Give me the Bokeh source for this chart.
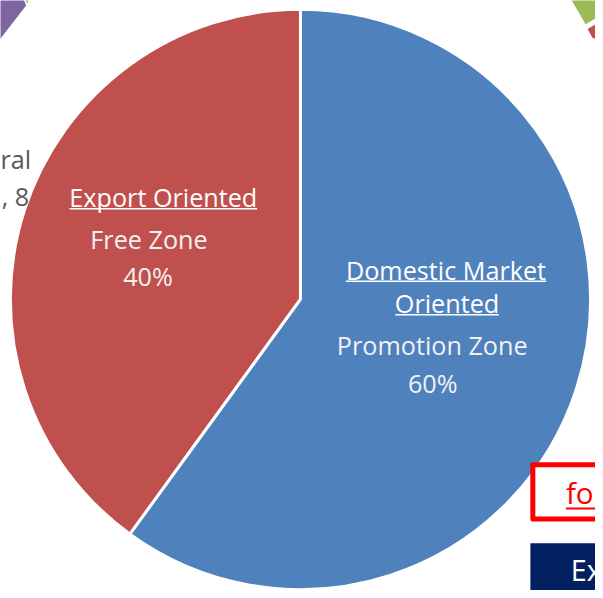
import numpy as np
from bokeh.plotting import figure
from bokeh.models import Range1d, ColumnDataSource
from bokeh.core.properties import value
from bokeh.embed import file_html
from bokeh.resources import INLINE

# ---- data ----
zones = ["Free Zone", "Promotion Zone"]
orientations = ["Export Oriented", "Domestic Market Oriented"]
shares = [40, 60]
pct_labels = ["40%", "60%"]
colors = ["#C0504D", "#4F81BD"]

# ---- layout (reference pixel frame, 603 x 598, scaled into the figure) ----
W, H = 595, 590
REF_W, REF_H = 603, 598
CX, CY, R = 304, 303, 294
FONT = "Open Sans"
S = W / REF_W


def X(px):
    return px - CX


def Y(py):
    return CY - py


def fs(px):
    return "%.1fpx" % (px * S)


p = figure(width=W, height=H, x_range=Range1d(X(0), X(REF_W)), y_range=Range1d(Y(REF_H), Y(0)),
           output_backend="svg", toolbar_location=None, tools="", min_border=0)
p.axis.visible = False
p.grid.visible = False
p.outline_line_color = None
p.background_fill_color = "white"
p.border_fill_color = "white"

# ---- pie ----
fr = np.array(shares, dtype=float) / sum(shares)
ends = np.pi / 2 + np.cumsum(fr) * 2 * np.pi
starts = np.concatenate([[np.pi / 2], ends[:-1]])
src = ColumnDataSource(dict(start=starts, end=ends, color=colors, zone=zones))
p.wedge(x=0, y=0, radius=R, start_angle="start", end_angle="end", direction="anticlock",
        fill_color="color", line_color="white", line_width=3, source=src)

# ---- fragments of neighbouring charts ----
p.patch([X(v) for v in [-5, 22, 26, -5]], [Y(v) for v in [-5, -5, 5, 45]], fill_color="#8064A2", line_color=None)
p.patch([X(v) for v in [23, 31, 27]], [Y(v) for v in [-5, -5, 3]], fill_color="#9BBB59", line_color=None)
p.patch([X(v) for v in [576, 610, 610, 593]], [Y(v) for v in [-5, -5, 14, 24]], fill_color="#9BBB59", line_color=None)
p.patch([X(v) for v in [595, 610, 610, 600]], [Y(v) for v in [29, 20, 40, 38]], fill_color="#C0504D", line_color=None)

# ---- slice labels (y = visual middle of the line) ----
label_x = [165, 451.5, 452.5, 150.5, 437.5, 149.5, 438]
label_y = [199, 273, 307, 242, 349, 279, 388]
label_t = [orientations[0], "Domestic Market", "Oriented", zones[0], zones[1], pct_labels[0], pct_labels[1]]
label_c = ["white", "white", "white", "#F2F2F2", "#F2F2F2", "#F2F2F2", "#F2F2F2"]
p.text(x=[X(v) for v in label_x], y=[Y(v) for v in label_y], text=label_t, text_color=label_c,
       text_font=value(FONT), text_font_size=fs(25.5), text_align="center", text_baseline="middle")
# underlines
ul_x0 = [70, 350, 400]
ul_x1 = [260, 553, 505]
ul_y = [211, 284.5, 318.5]
p.segment(x0=[X(v) for v in ul_x0], x1=[X(v) for v in ul_x1], y0=[Y(v) for v in ul_y], y1=[Y(v) for v in ul_y],
          line_color="white", line_width=1.6)

# ---- cut-off text at left ----
p.text(x=[X(31), X(29)], y=[Y(161), Y(198)], text=["ral", ", 8"], text_color="#595959",
       text_font=value(FONT), text_font_size=fs(25.5), text_align="right", text_baseline="middle")

# ---- boxes at bottom right ----
p.quad(left=X(539.5), right=X(620), top=Y(470.5), bottom=Y(525.5), fill_color="white",
       line_color="#FF0000", line_width=5, line_join="round")
p.text(x=[X(573)], y=[Y(499)], text=["fo"], text_color="#FF0000", text_font=value(FONT),
       text_font_size=fs(30), text_align="left", text_baseline="middle")
p.segment(x0=[X(573)], x1=[X(610)], y0=[Y(515)], y1=[Y(515)], line_color="#FF0000", line_width=2)
p.quad(left=X(537), right=X(620), top=Y(550), bottom=Y(610), fill_color="#002060", line_color=None)
p.text(x=[X(578)], y=[Y(577)], text=["Ex"], text_color="white", text_font=value(FONT),
       text_font_size=fs(29), text_align="left", text_baseline="middle")

open("out.html", "w").write(file_html(p, INLINE))
